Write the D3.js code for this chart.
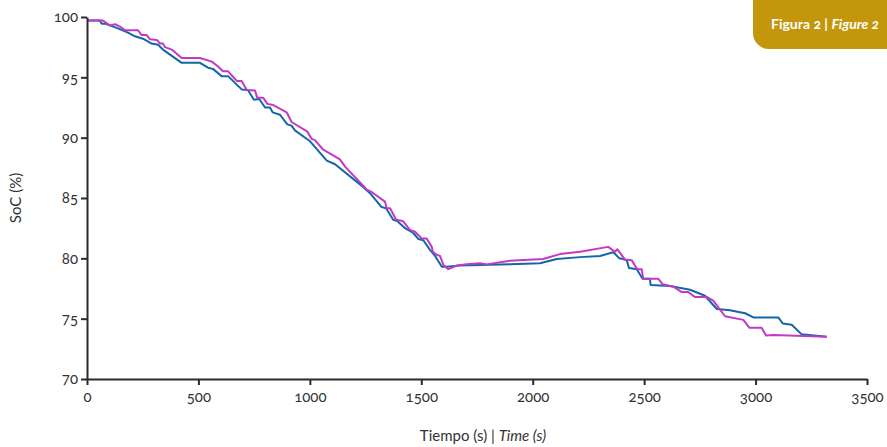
<!DOCTYPE html>
<html><head><meta charset="utf-8">
<script src="https://cdn.jsdelivr.net/npm/d3@7"></script>
<style>
body{margin:0;background:#fff;}
svg text{font-family:"Lato","Noto Sans",sans-serif;font-variant-numeric:oldstyle-nums;font-feature-settings:"onum" 1;}
</style></head><body>
<svg id="c" width="887" height="447"></svg>
<script>
// Series A (blue): [time s, SoC %]
const blueTime = [0,58,66,81,133,184,215,251,290,319,341,425,507,543,565,604,633,694,722,749,773,799,821,833,866,899,918,933,1001,1076,1113,1240,1270,1322,1342,1374,1392,1427,1464,1487,1509,1539,1562,1592,1614,1674,1898,2033,2108,2212,2302,2362,2389,2422,2432,2467,2493,2526,2529,2616,2706,2773,2826,2885,2953,2990,3102,3122,3162,3207,3319];
const blueSoC  = [99.7,99.7,99.45,99.45,99.1,98.7,98.4,98.2,97.8,97.7,97.3,96.2,96.2,95.8,95.7,95.1,95.1,94.0,93.95,93.15,93.2,92.5,92.5,92.1,91.9,91.1,91.0,90.6,89.7,88.1,87.8,85.9,85.4,84.25,84.15,83.2,83.1,82.5,82.1,81.6,81.5,80.7,80.2,79.3,79.3,79.4,79.5,79.6,79.95,80.1,80.2,80.5,80.0,79.85,79.2,79.1,78.3,78.3,77.8,77.7,77.4,76.9,75.8,75.7,75.45,75.1,75.1,74.6,74.5,73.7,73.5];
// Series B (magenta)
const magTime = [0,72,103,126,148,171,229,245,268,283,313,328,341,350,380,425,507,560,588,610,633,655,672,694,717,754,764,791,809,836,896,918,989,1008,1023,1060,1135,1158,1255,1277,1337,1345,1360,1387,1417,1449,1472,1502,1524,1547,1552,1569,1584,1599,1621,1659,1704,1763,1793,1898,2047,2122,2212,2339,2369,2380,2414,2444,2469,2489,2496,2564,2583,2631,2669,2698,2728,2781,2810,2863,2945,2972,3027,3047,3080,3319];
const magSoC  = [99.7,99.7,99.3,99.4,99.2,98.9,98.9,98.5,98.5,98.15,98.1,97.8,97.8,97.5,97.3,96.6,96.6,96.3,95.9,95.5,95.5,95.05,94.7,94.7,93.95,93.9,93.3,93.3,92.8,92.7,92.1,91.3,90.5,89.9,89.8,89.0,88.2,87.6,85.7,85.5,84.7,84.15,84.15,83.2,83.1,82.35,82.2,81.65,81.65,80.95,80.55,80.3,80.2,79.45,79.1,79.4,79.5,79.6,79.5,79.8,79.95,80.35,80.55,80.95,80.55,80.75,79.9,79.85,79.1,79.1,78.3,78.3,77.85,77.65,77.2,77.2,76.8,76.8,76.5,75.2,74.9,74.25,74.25,73.6,73.65,73.5];
const xTicks = [0,500,1000,1500,2000,2500,3000,3500];
const yTicks = [70,75,80,85,90,95,100];
const xTitleA = "Tiempo (s) | ";
const xTitleB = "Time (s)";
const yTitle = "SoC (%)";
const badgeA = "Figura 2 | ";
const badgeB = "Figure 2";

const svg = d3.select("#c");
const x = d3.scaleLinear().domain([0,3500]).range([87,867]);
const y = d3.scaleLinear().domain([70,100]).range([379,17]);

// badge
svg.append("rect").attr("x",753).attr("y",-20).attr("width",200).attr("height",69).attr("rx",16).attr("fill","#c4960c");
const bt = svg.append("text").attr("x",771).attr("y",29).attr("fill","#fff").attr("font-size",14).attr("font-weight",700);
bt.append("tspan").text(badgeA);
bt.append("tspan").attr("font-style","italic").text(badgeB);

const line = d3.line().x(d=>x(d[0])).y(d=>y(d[1]));
const blue = blueTime.map((t,i)=>[t,blueSoC[i]]);
const mag = magTime.map((t,i)=>[t,magSoC[i]]);
svg.append("path").datum(blue).attr("d",line).attr("fill","none").attr("stroke","#1268a6").attr("stroke-width",2).attr("stroke-linejoin","round");
svg.append("path").datum(mag).attr("d",line).attr("fill","none").attr("stroke","#c23ac4").attr("stroke-width",2).attr("stroke-linejoin","round");

// axes
const ax = svg.append("g").attr("transform","translate(0,379)")
  .call(d3.axisBottom(x).tickValues(xTicks).tickFormat(d3.format("d")).tickSize(6).tickSizeOuter(0));
const ay = svg.append("g").attr("transform","translate(87,0)")
  .call(d3.axisLeft(y).tickValues(yTicks).tickFormat(d3.format("d")).tickSize(6).tickSizeOuter(0));
[ax,ay].forEach(g=>{
  g.selectAll("path,line").attr("stroke","#2b2b2b").attr("stroke-width",2);
  g.selectAll("text").attr("fill","#333").attr("font-size",15).attr("font-family","Lato, 'Noto Sans', sans-serif");
});
ax.selectAll("text").attr("dy","0.9em");
ay.selectAll("text").attr("x",-9);

const xt = svg.append("text").attr("x",483).attr("y",441).attr("text-anchor","middle").attr("fill","#333").attr("font-size",15);
xt.append("tspan").text(xTitleA);
xt.append("tspan").attr("font-style","italic").text(xTitleB);
svg.append("text").attr("transform","translate(21,198) rotate(-90)").attr("text-anchor","middle").attr("fill","#333").attr("font-size",15).text(yTitle);
</script></body></html>
